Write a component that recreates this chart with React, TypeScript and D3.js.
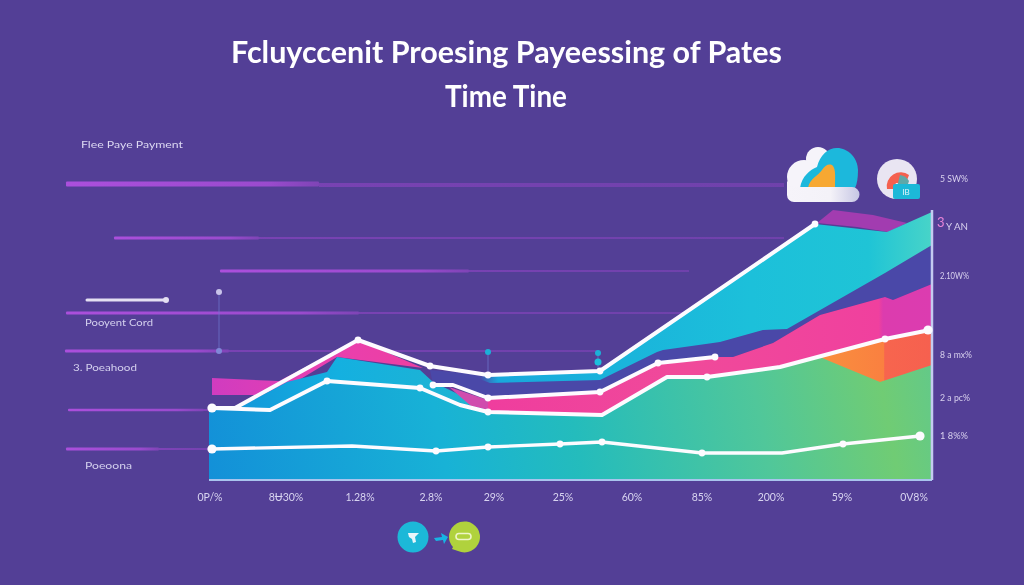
import React from "react";
import * as d3 from "d3";

type Pt = [number, number];

// Series, in plot units (x 0..723, y 0..270)
const line0: Pt[] = [[3,31],[143,34],[227,29],[279,33],[351,36],[393,38],[493,27],[573,27],[634,36],[711,44]];
const line2: Pt[] = [[3,72],[61,70],[118,99],[211,92],[251,75],[279,68],[393,65],[458,103],[498,103],[571,113],[676,141],[721,150]];
const line3: Pt[] = [[224,95],[244,95],[279,82],[391,88],[449,117],[506,123]];
const line4: Pt[] = [[3,72],[26,72],[149,140],[221,114],[279,105],[391,109],[606,256]];

const baseArea: Pt[] = [[0,72],[61,70],[118,99],[211,92],[251,75],[279,68],[393,65],[458,103],[498,103],[571,113],[676,141],[723,150],[723,0],[0,0]];
const orangeArea: Pt[] = [[613,122],[671,98],[723,115],[723,150],[676,141],[613,125]];
const pinkArea: Pt[] = [[279,82],[391,88],[449,117],[506,123],[524,123],[564,137],[611,165],[676,183],[684,180],[723,196],[723,150],[676,141],[571,113],[498,103],[458,103],[393,65],[279,68]];
const sliverArea: Pt[] = [[240,93],[279,80],[279,70],[262,74]];
const indigoArea: Pt[] = [[221,110],[279,105],[391,105],[454,135],[511,138],[554,150],[578,151],[676,207],[723,235],[723,196],[684,180],[676,183],[611,165],[564,137],[524,123],[506,123],[449,117],[391,88],[279,82],[244,95],[224,95]];
const cyanArea: Pt[] = [[268,102],[279,105],[391,109],[606,256],[678,248],[723,268],[723,235],[676,207],[578,151],[554,150],[511,138],[454,130],[448,128],[391,100],[281,97]];
const humpArea: Pt[] = [[608,257],[624,270],[664,265],[698,257],[679,248],[648,253]];
const peakArea: Pt[] = [[3,102],[70,99],[149,140],[214,112],[128,123],[85,97],[50,85],[3,85]];
const midCyanArea: Pt[] = [[29,72],[78,98],[118,108],[128,123],[211,110],[224,98],[251,85],[279,72],[279,68],[251,75],[211,92],[118,99],[61,70]];

const dots0: Pt[] = [[3,31],[227,29],[279,33],[351,36],[393,38],[493,27],[634,36],[711,44]];
const dots2: Pt[] = [[118,99],[211,92],[279,68],[498,103],[676,141],[719,150]];
const dots3: Pt[] = [[224,95],[279,82],[391,88],[449,117],[506,123]];
const dots4: Pt[] = [[3,72],[149,140],[221,114],[279,105],[391,109],[606,256]];
const bigDotX = [3, 711, 719];

const xTickPos = [1, 77, 151, 222, 285, 354, 423, 493, 562, 633, 705];
const xTickLabels = ["0P/%", "8Ʉ30%", "1.28%", "2.8%", "29%", "25%", "60%", "85%", "200%", "59%", "0V8%"];
const rightTickPos = [302, 254, 205, 126, 83, 45];
const rightTickLabels = ["5 SW%", "Y AN", "2.10W%", "8 a mx%", "2 a pc%", "1 8%%"];
const rightTickWidth = [28, 22, 29, 32, 30, 28];

// Guide rows: y, start of bright, end of bright, end of dim
const guideY = [296, 242, 209, 167, 129, 70, 31];
const guideStart = [-143, -95, 11, -143, -144, -141, -143];
const guideBright = [110, 50, 260, 150, 20, -5, -50];
const guideEnd = [575, 575, 480, 475, 390, 0, 0];
const guideThick = [5, 3, 3, 3, 3, 2.5, 3];

const markerX = [10, 279, 389];
const markerTop = [188, 128, 127];

const W = 1024, H = 585;
const x = d3.scaleLinear().domain([0, 723]).range([209, 932]);
const y = d3.scaleLinear().domain([0, 270]).range([480, 210]);
const linePath = d3.line<Pt>().x(d => x(d[0])).y(d => y(d[1]));
const poly = (p: Pt[]) => (linePath.curve(d3.curveLinearClosed)(p) as string);
const open = (p: Pt[]) => (linePath.curve(d3.curveLinear)(p) as string);

const BG = "#533f96";
const FONT = "Lato, 'Open Sans', sans-serif";
const SOFT = "url(#soft)";

export default function App() {
  const seriesLines = [line0, line2, line3, line4];
  const seriesDots = [dots0, dots2, dots3, dots4];
  return (
    <svg width={W} height={H} viewBox={`0 0 ${W} ${H}`} style={{ position: "fixed", left: 0, top: 0, display: "block" }}>
      <defs>
        <filter id="soft" x="-5%" y="-20%" width="110%" height="140%"><feGaussianBlur stdDeviation="0.45" /></filter>
        <filter id="iconSoft" x="-5%" y="-5%" width="110%" height="110%"><feGaussianBlur stdDeviation="0.5" /></filter>
        <linearGradient id="base" gradientUnits="userSpaceOnUse" x1={209} y1={480} x2={932} y2={340}>
          <stop offset="0" stopColor="#1390d8" />
          <stop offset="0.32" stopColor="#18b2d6" />
          <stop offset="0.5" stopColor="#24bcbc" />
          <stop offset="0.75" stopColor="#50c79a" />
          <stop offset="0.92" stopColor="#70cc74" />
          <stop offset="1" stopColor="#62c98a" />
        </linearGradient>
        <linearGradient id="pink" gradientUnits="userSpaceOnUse" x1={488} y1={0} x2={932} y2={0}>
          <stop offset="0" stopColor="#ef3d9e" />
          <stop offset="0.45" stopColor="#f04a9a" />
          <stop offset="0.88" stopColor="#f0409e" />
          <stop offset="0.89" stopColor="#dc3cae" />
          <stop offset="1" stopColor="#dc3cb0" />
        </linearGradient>
        <linearGradient id="orange" gradientUnits="userSpaceOnUse" x1={822} y1={0} x2={932} y2={0}>
          <stop offset="0" stopColor="#f98f3e" />
          <stop offset="0.56" stopColor="#fa8040" />
          <stop offset="0.57" stopColor="#f7654e" />
          <stop offset="1" stopColor="#f6604f" />
        </linearGradient>
        <linearGradient id="cyan" gradientUnits="userSpaceOnUse" x1={480} y1={0} x2={932} y2={0}>
          <stop offset="0" stopColor="#4a4aaa" />
          <stop offset="0.04" stopColor="#18a8dc" />
          <stop offset="0.6" stopColor="#1cc0da" />
          <stop offset="0.86" stopColor="#1fc4d6" />
          <stop offset="1" stopColor="#48d4c8" />
        </linearGradient>
        <linearGradient id="peak" gradientUnits="userSpaceOnUse" x1={212} y1={0} x2={430} y2={0}>
          <stop offset="0" stopColor="#d03cc0" />
          <stop offset="0.5" stopColor="#e83fb0" />
          <stop offset="1" stopColor="#ee3fa0" />
        </linearGradient>
        <linearGradient id="mid" gradientUnits="userSpaceOnUse" x1={240} y1={0} x2={488} y2={0}>
          <stop offset="0" stopColor="#1498da" />
          <stop offset="0.4" stopColor="#14b0e0" />
          <stop offset="1" stopColor="#20b4d0" />
        </linearGradient>
        <linearGradient id="fadeBright" x1="0" x2="1" y1="0" y2="0">
          <stop offset="0" stopColor="#b050e0" stopOpacity="0.95" />
          <stop offset="0.8" stopColor="#a24cd4" stopOpacity="0.9" />
          <stop offset="1" stopColor="#9c48cc" stopOpacity="0.6" />
        </linearGradient>
        <linearGradient id="fadeDim" x1="0" x2="1" y1="0" y2="0">
          <stop offset="0" stopColor="#8a44c0" stopOpacity="0.8" />
          <stop offset="1" stopColor="#8a44c0" stopOpacity="0.6" />
        </linearGradient>
        <linearGradient id="cloudBase" x1="0" x2="1" y1="0" y2="0">
          <stop offset="0" stopColor="#f6f4fa" />
          <stop offset="0.6" stopColor="#f4f2f8" />
          <stop offset="1" stopColor="#c6c6e4" />
        </linearGradient>
      </defs>

      <rect width={W} height={H} fill={BG} />

      {/* guide rows */}
      {guideY.map((g, i) => (
        <g key={i}>
          <rect x={x(guideBright[i])} y={y(g) - 1} width={x(guideEnd[i]) - x(guideBright[i])} height={Math.max(2, guideThick[i] - 1)} fill="url(#fadeDim)" opacity={guideEnd[i] > 0 ? 0.85 : 1} />
          <rect x={x(guideStart[i])} y={y(g) - guideThick[i] / 2} width={x(guideBright[i]) - x(guideStart[i])} height={guideThick[i]} rx={1} fill="url(#fadeBright)" />
        </g>
      ))}

      {/* vertical markers */}
      {markerX.map((m, i) => (
        <line key={i} x1={x(m)} x2={x(m)} y1={y(markerTop[i])} y2={i === 0 ? y(128) : y(105)} stroke="#6f78d0" strokeWidth={1} opacity={0.7} />
      ))}
      <circle cx={x(markerX[0])} cy={y(markerTop[0])} r={3} fill="#c9c4ea" />
      <circle cx={x(markerX[0])} cy={y(129)} r={3} fill="#8088d8" />
      {markerX.slice(1).map((m, i) => (
        <circle key={i} cx={x(m)} cy={y(markerTop[i + 1])} r={3} fill="#1cb0d8" />
      ))}
      <circle cx={x(markerX[2])} cy={y(118)} r={3.5} fill="#1cc0dc" />

      {/* legend sample line */}
      <line x1={87} x2={166} y1={300} y2={300} stroke="#e4dff2" strokeWidth={3} strokeLinecap="round" />
      <circle cx={166} cy={300} r={3} fill="#e4dff2" />

      {/* areas */}
      <path d={poly(peakArea)} fill="url(#peak)" />
      <path d={poly(humpArea)} fill="#a23cb0" />
      <path d={poly(indigoArea)} fill="#4a48a8" />
      <path d={poly(cyanArea)} fill="url(#cyan)" />
      <path d={poly(pinkArea)} fill="url(#pink)" />
      <path d={poly(baseArea)} fill="url(#base)" />
      <path d={poly(orangeArea)} fill="url(#orange)" />
      <path d={poly(midCyanArea)} fill="url(#mid)" />
      <path d={poly(sliverArea)} fill="#d04cae" />

      {/* axes */}
      <line x1={x(0)} x2={x(723)} y1={y(0)} y2={y(0)} stroke="#a9c4ee" strokeWidth={2} />
      <line x1={x(723)} x2={x(723)} y1={y(0)} y2={y(270)} stroke="#c4cbf0" strokeWidth={2.5} />

      {/* lines */}
      {seriesLines.map((l, i) => (
        <path key={i} d={open(l)} fill="none" stroke="#fdfbff" strokeWidth={i === 0 ? 3.4 : 4} strokeLinejoin="round" strokeLinecap="round" />
      ))}
      {seriesDots.map((ds, i) => ds.map((d, j) => (
        <circle key={`${i}-${j}`} cx={x(d[0])} cy={y(d[1])} r={bigDotX.includes(d[0]) ? 4.6 : 3.4} fill="#fdfbff" />
      )))}

      {/* tick labels */}
      {xTickLabels.map((t, i) => (
        <text key={t} x={x(xTickPos[i])} y={501} textAnchor="middle" fontFamily={FONT} fontSize={10.5} fill="#d8d4f0" filter={SOFT}>{t}</text>
      ))}
      {rightTickLabels.map((t, i) => (
        <text key={t} x={i === 1 ? 946 : 940} y={y(rightTickPos[i]) + 4} fontFamily={FONT} fontSize={10} fill="#d8d0ee" textLength={rightTickWidth[i]} lengthAdjust="spacingAndGlyphs" filter={SOFT}>{t}</text>
      ))}
      <text x={937} y={227} fontFamily={FONT} fontSize={13} fill="#e884d8" filter={SOFT}>3</text>

      {/* left labels */}
      <text x={81} y={148} fontFamily={FONT} fontSize={10} fill="#dcd8f2" textLength={102} lengthAdjust="spacingAndGlyphs" filter={SOFT}>Flee Paye Payment</text>
      <text x={85} y={326} fontFamily={FONT} fontSize={10} fill="#d4d0ee" textLength={68} lengthAdjust="spacingAndGlyphs" filter={SOFT}>Pooyent Cord</text>
      <text x={73} y={371} fontFamily={FONT} fontSize={10} fill="#d4d0ee" textLength={64} lengthAdjust="spacingAndGlyphs" filter={SOFT}>3. Poeahood</text>
      <text x={85} y={469} fontFamily={FONT} fontSize={10} fill="#d4d0ee" textLength={47} lengthAdjust="spacingAndGlyphs" filter={SOFT}>Poeoona</text>

      {/* title */}
      <text x={231} y={63} fontFamily={FONT} fontSize={31} fontWeight={700} fill="#fff" textLength={551} lengthAdjust="spacingAndGlyphs" filter={SOFT}>Fcluyccenit Proesing Payeessing of Pates</text>
      <text x={445} y={107} fontFamily={FONT} fontSize={30} fontWeight={700} fill="#fff" textLength={122} lengthAdjust="spacingAndGlyphs" filter={SOFT}>Time Tine</text>

      {/* cloud icon */}
      <g filter="url(#iconSoft)">
        <circle cx={804} cy={177} r={17} fill="#f6f4fa" />
        <circle cx={818} cy={159} r={12} fill="#f6f4fa" />
        <path d="M800 188 C802 176 810 170 817 167 C820 155 828 148 837 148 C848 148 858 158 858 170 C858 178 857 184 855 188 Z" fill="#1cb8dc" />
        <path d="M808 188 C810 178 818 176 822 170 C825 165 830 163 833 166 C836 170 835 178 835 188 Z" fill="#f7a833" />
        <path d="M795 187 h57 a7.5 7.5 0 0 1 0 15 h-58 a7 7 0 0 1 -7 -7 v-14 Z" fill="url(#cloudBase)" />
      </g>

      {/* gauge icon */}
      <g filter="url(#iconSoft)">
        <circle cx={897} cy={179} r={20} fill="#e9e5f2" />
        <path d="M887 189 a14 14 0 0 1 22 -14 l-3 8 h-10 l-3 6 Z" fill="#f4614f" />
        <path d="M900 175 a12 12 0 0 1 9 6 l-2 6 h-10 Z" fill="#5fa8a8" />
        <rect x={893} y={184} width={27} height={15} rx={2} fill="#1ab8d8" />
        <text x={906} y={195} textAnchor="middle" fontFamily={FONT} fontSize={8} fill="#e6f6fa">IB</text>
      </g>

      {/* bottom icons */}
      <g filter="url(#iconSoft)">
        <circle cx={413} cy={537} r={15.5} fill="#1fb8d8" />
        <path d="M408 533 h11 l-4 4 l1 5 l-3 1 l-1 -4 l-3 -2 Z" fill="#e8f6fa" />
        <path d="M434 538 l8 -1 l-1 -4 l7 4 l-4 7 l-1 -4 l-7 1 Z" fill="#18b4e4" />
        <path d="M449 537 a15.5 15.5 0 1 1 9 14 l-6 -2 l1 -2 a15 15 0 0 1 -4 -10 Z" fill="#b0d23c" />
        <rect x={456} y={533.5} width={15} height={6} rx={3} fill="none" stroke="#eef5c8" strokeWidth={1.6} />
      </g>
    </svg>
  );
}
